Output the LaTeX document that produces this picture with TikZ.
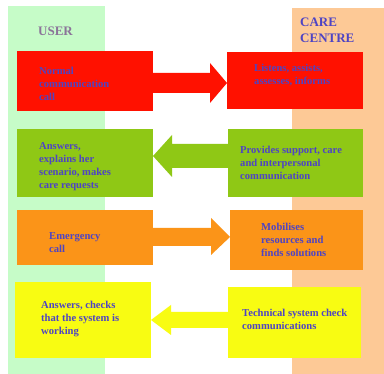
\documentclass[tikz,border=0pt]{standalone}
\usepackage{fontspec}
\setmainfont{Liberation Serif}
\begin{document}
\definecolor{colgreen}{HTML}{C6FCC8}
\definecolor{colorange}{HTML}{FDC996}
\definecolor{cred}{HTML}{FF1100}
\definecolor{cgreen}{HTML}{8FC815}
\definecolor{corange}{HTML}{FB9418}
\definecolor{cyellow}{HTML}{F8FC12}
\definecolor{txt}{HTML}{4E44C4}
\definecolor{usertxt}{HTML}{8B7499}
\begin{tikzpicture}[x=1pt,y=-1pt,
  box/.style={draw=none,inner sep=0pt,outer sep=0pt,anchor=north west},
  lbl/.style={inner sep=0pt,anchor=west,align=left,text=txt,font=\bfseries\fontsize{10.6}{13}\selectfont},
  head/.style={inner sep=0pt,anchor=west,align=left,font=\bfseries\fontsize{13}{16}\selectfont}]
\useasboundingbox (0,0) rectangle (384,374);
\fill[white] (0,0) rectangle (384,374);
% columns
\node[box,fill=colgreen,minimum width=97pt,minimum height=368pt] (ucol) at (8,6) {};
\node[box,fill=colorange,minimum width=92pt,minimum height=366pt] (ccol) at (292,8) {};
\node[head,text=usertxt] (user) at (38,31) {USER};
\node[head,text=txt] (care) at (300,30) {CARE\\CENTRE};
% boxes
\node[box,fill=cred,minimum width=136pt,minimum height=60pt] (rl) at (17,51) {};
\node[box,fill=cred,minimum width=136pt,minimum height=57pt] (rr) at (227,52) {};
\node[box,fill=cgreen,minimum width=136pt,minimum height=68pt] (gl) at (17,129) {};
\node[box,fill=cgreen,minimum width=135pt,minimum height=68pt] (gr) at (228,129) {};
\node[box,fill=corange,minimum width=136pt,minimum height=55pt] (ol) at (17,210) {};
\node[box,fill=corange,minimum width=133pt,minimum height=60pt] (or) at (230,210) {};
\node[box,fill=cyellow,minimum width=136pt,minimum height=76pt] (yl) at (15,282) {};
\node[box,fill=cyellow,minimum width=133pt,minimum height=71pt] (yr) at (228,287) {};
% arrows
\fill[cred] (rl.east |- 0,73) -- (210,73) -- (210,63) -- (rr.west |- 0,83) -- (210,103) -- (210,93) -- (rl.east |- 0,93) -- cycle;
\fill[cgreen] (gr.west |- 0,144) -- (172,144) -- (172,135) -- (gl.east |- 0,156) -- (172,177) -- (172,168) -- (gr.west |- 0,168) -- cycle;
\fill[corange] (ol.east |- 0,228) -- (211,228) -- (211,218) -- (or.west |- 0,237) -- (211,255) -- (211,246) -- (ol.east |- 0,246) -- cycle;
\fill[cyellow] (yr.west |- 0,312) -- (171,312) -- (171,305) -- (yl.east |- 0,320) -- (171,335) -- (171,328) -- (yr.west |- 0,328) -- cycle;
% texts
\node[lbl] (trl) at (39,84) {Normal\\communication\\call};
\node[lbl] (trr) at (254,75.5) {Listens, assists,\\assesses, informs};
\node[lbl] (tgl) at (39,166.5) {Answers,\\explains her\\scenario, makes\\care requests};
\node[lbl] (tgr) at (240,163) {Provides support, care\\and interpersonal\\communication};
\node[lbl] (tol) at (49,243) {Emergency\\call};
\node[lbl] (tor) at (261,239.5) {Mobilises\\resources and\\finds solutions};
\node[lbl] (tyl) at (41,319) {Answers, checks\\that the system is\\working};
\node[lbl] (tyr) at (242,319.5) {Technical system check\\communications};
\end{tikzpicture}
\end{document}
